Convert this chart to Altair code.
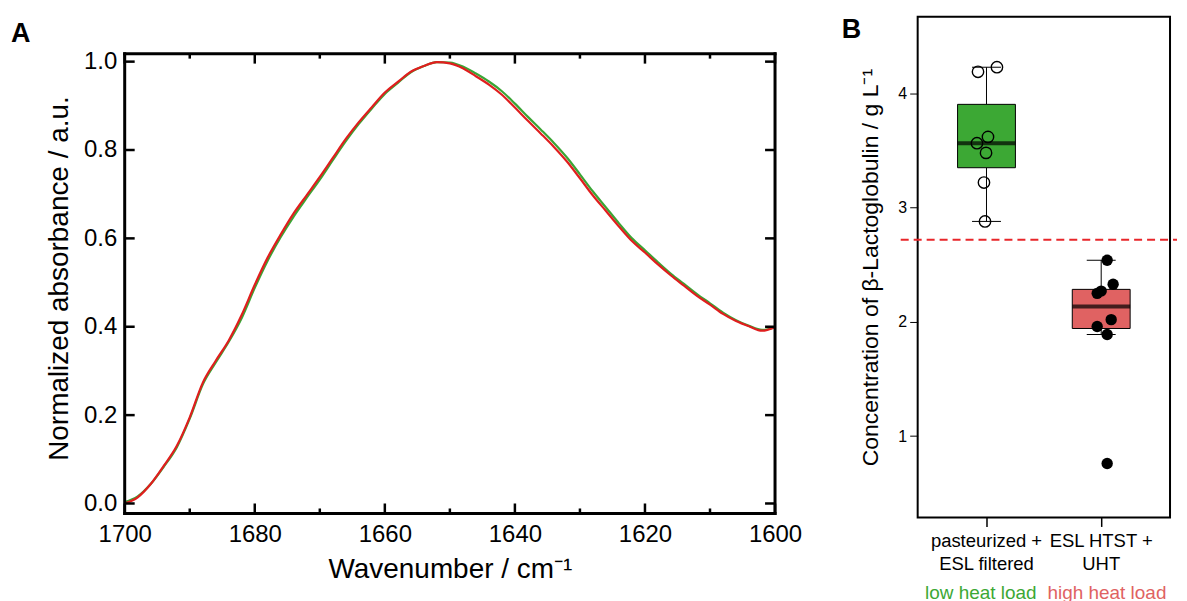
import altair as alt
import pandas as pd

FONT = "Liberation Sans"

# ---------------- Panel A data ----------------
WAVENUMBER = list(range(1700, 1599, -2))
ABS_HIGH = [0.000, 0.014, 0.044, 0.085, 0.130, 0.195, 0.273, 0.323, 0.369, 0.427,
            0.495, 0.557, 0.609, 0.657, 0.698, 0.739, 0.782, 0.825, 0.863, 0.897,
            0.930, 0.954, 0.977, 0.990, 0.999, 0.996, 0.985, 0.967, 0.948, 0.925,
            0.896, 0.866, 0.837, 0.807, 0.774, 0.736, 0.697, 0.662, 0.627, 0.594,
            0.568, 0.541, 0.516, 0.493, 0.470, 0.450, 0.429, 0.413, 0.401, 0.391,
            0.399]
ABS_LOW = [0.003, 0.016, 0.044, 0.083, 0.127, 0.192, 0.269, 0.319, 0.366, 0.420,
           0.488, 0.550, 0.603, 0.650, 0.692, 0.733, 0.777, 0.820, 0.859, 0.894,
           0.927, 0.952, 0.976, 0.990, 0.999, 0.998, 0.989, 0.973, 0.955, 0.933,
           0.905, 0.875, 0.846, 0.816, 0.783, 0.745, 0.706, 0.670, 0.634, 0.600,
           0.573, 0.546, 0.520, 0.497, 0.474, 0.453, 0.432, 0.415, 0.402, 0.393,
           0.399]
X_MAJOR = [1700, 1680, 1660, 1640, 1620, 1600]
X_MINOR = [1690, 1670, 1650, 1630, 1610]
Y_MAJOR = [0.0, 0.2, 0.4, 0.6, 0.8, 1.0]
PANEL_LABELS = ["A", "B"]

# ---------------- Panel B data ----------------
GROUPS = ["pasteurized + ESL filtered", "ESL HTST + UHT"]
GROUP_LINES = [["pasteurized +", "ESL filtered"], ["ESL HTST +", "UHT"]]
HEAT_LOAD = ["low heat load", "high heat load"]
LOW_VALUES = [4.19, 4.23, 3.62, 3.565, 3.48, 3.22, 2.88]
LOW_JITTER = [-0.074, 0.091, 0.013, -0.083, -0.004, -0.022, -0.013]
HIGH_VALUES = [2.54, 2.33, 2.27, 2.25, 2.02, 1.96, 1.89, 0.76]
HIGH_JITTER = [0.052, 0.104, 0.0, -0.035, 0.087, -0.035, 0.052, 0.052]
THRESHOLD = [2.72]
B_TICKS = [1, 2, 3, 4]

GREEN_LINE = "#3aa535"
RED_LINE = "#e01e1e"
GREEN_BOX = "#3ca834"
RED_BOX = "#e06262"

# Panel A view spans the same top as panel B; its frame starts FRAME_TOP lower.
A_W, A_H = 652, 498
FRAME_TOP = 37
B_W, B_H = 253, 502

# ---------------- Panel A ----------------
df_low = pd.DataFrame({"wavenumber": WAVENUMBER, "absorbance": ABS_LOW})
df_high = pd.DataFrame({"wavenumber": WAVENUMBER, "absorbance": ABS_HIGH})

x_a = alt.X("wavenumber:Q",
            scale=alt.Scale(domain=[1600, 1700], reverse=True, nice=False, zero=False),
            axis=alt.Axis(values=X_MAJOR, format="d", ticks=False, tickSize=0, domain=False,
                          grid=False, labelFontSize=24, labelPadding=9, labelFlush=False,
                          labelOverlap=False, title="Wavenumber / cm⁻¹", titleFontSize=28,
                          titlePadding=9))
y_a = alt.Y("absorbance:Q",
            scale=alt.Scale(domain=[-0.0226, 1.1016], nice=False, zero=False),
            axis=alt.Axis(values=Y_MAJOR, format=".1f", ticks=False, tickSize=0, domain=False,
                          grid=False, labelFontSize=24, labelPadding=8, labelFlush=False,
                          title="Normalized absorbance / a.u.", titleFontSize=28,
                          titlePadding=10, titleY=262))

line_low = alt.Chart(df_low).mark_line(color=GREEN_LINE, strokeWidth=2.2,
                                       interpolate="monotone").encode(x=x_a, y=y_a)
line_high = alt.Chart(df_high).mark_line(color=RED_LINE, strokeWidth=2.2,
                                         interpolate="monotone").encode(x=x_a, y=y_a)

xmaj = pd.DataFrame({"wavenumber": X_MAJOR})
xmin = pd.DataFrame({"wavenumber": X_MINOR})
ymaj = pd.DataFrame({"absorbance": Y_MAJOR})


def ticks(df, **enc):
    return alt.Chart(df).mark_rule(color="black", strokeWidth=2.5).encode(**enc)


tick_layers = [
    ticks(xmaj, x=x_a, y=alt.value(A_H), y2=alt.value(A_H - 10)),
    ticks(xmaj, x=x_a, y=alt.value(FRAME_TOP), y2=alt.value(FRAME_TOP + 10)),
    ticks(xmin, x=x_a, y=alt.value(A_H), y2=alt.value(A_H - 5)),
    ticks(xmin, x=x_a, y=alt.value(FRAME_TOP), y2=alt.value(FRAME_TOP + 5)),
    ticks(ymaj, y=y_a, x=alt.value(0), x2=alt.value(10)),
    ticks(ymaj, y=y_a, x=alt.value(A_W), x2=alt.value(A_W - 10)),
]

frame_src = pd.DataFrame({"k": [0]})


def frame(**enc):
    return alt.Chart(frame_src).mark_rule(color="black", strokeWidth=3,
                                          strokeCap="square").encode(**enc)


frame_layers = [
    frame(x=alt.value(0), x2=alt.value(A_W), y=alt.value(FRAME_TOP)),
    frame(x=alt.value(0), x2=alt.value(A_W), y=alt.value(A_H)),
    frame(x=alt.value(0), y=alt.value(FRAME_TOP), y2=alt.value(A_H)),
    frame(x=alt.value(A_W), y=alt.value(FRAME_TOP), y2=alt.value(A_H)),
]

label_a = alt.Chart(pd.DataFrame({"label": [PANEL_LABELS[0]]})).mark_text(
    align="left", baseline="top", fontSize=27, fontWeight="bold", font=FONT, color="black"
).encode(text="label:N", x=alt.value(-114), y=alt.value(4))

panel_a = alt.layer(line_low, line_high, *tick_layers, *frame_layers, label_a).properties(
    width=A_W, height=A_H, view=alt.ViewBackground(stroke=None))

# ---------------- Panel B ----------------
df_b = pd.DataFrame({
    "group": [GROUPS[0]] * len(LOW_VALUES) + [GROUPS[1]] * len(HIGH_VALUES),
    "value": LOW_VALUES + HIGH_VALUES,
    "xpos": [0 + j for j in LOW_JITTER] + [1 + j for j in HIGH_JITTER],
})

label_expr = " : ".join(
    f"datum.value == '{g}' ? ['{l[0]}', '{l[1]}']" for g, l in zip(GROUPS[:-1], GROUP_LINES[:-1])
) + f" : ['{GROUP_LINES[-1][0]}', '{GROUP_LINES[-1][1]}']"

band = alt.Scale(domain=GROUPS, paddingInner=0.5, paddingOuter=0.35)
y_b = alt.Y("value:Q",
            scale=alt.Scale(domain=[0.288, 4.672], nice=False, zero=False),
            axis=alt.Axis(values=B_TICKS, format="d", tickSize=8, tickWidth=1, tickColor="black",
                          labelPadding=3, labelFontSize=16, domain=False, grid=False,
                          title="Concentration of β-Lactoglobulin / g L⁻¹", titleFontSize=23,
                          titlePadding=15))
color_b = alt.Color("group:N", scale=alt.Scale(domain=GROUPS, range=[GREEN_BOX, RED_BOX]),
                    legend=None)

box = alt.Chart(df_b).mark_boxplot(
    size=58, extent=1.5, outliers=False,
    box={"stroke": "black", "strokeWidth": 1},
    median={"color": "black", "thickness": 4},
    rule={"color": "black", "strokeWidth": 1},
    ticks={"color": "black", "size": 29, "thickness": 1},
).encode(
    x=alt.X("group:N", scale=band, sort=GROUPS,
            axis=alt.Axis(labelExpr=label_expr, labelAngle=0, tickSize=9, tickWidth=1.5,
                          tickColor="black", labelPadding=5, labelFontSize=18.5,
                          labelLineHeight=23, domain=False, grid=False, title=None)),
    y=y_b,
    color=color_b,
)

thr = alt.Chart(pd.DataFrame({"value": THRESHOLD})).mark_rule(
    color="#e8262a", strokeWidth=2, strokeDash=[8, 5]
).encode(y="value:Q", x=alt.value(-17), x2=alt.value(260))

x_pts = alt.X("xpos:Q", scale=alt.Scale(domain=[-0.6, 1.6], nice=False, zero=False), axis=None)
pts_low = alt.Chart(df_b).transform_filter(alt.datum.group == GROUPS[0]).mark_point(
    shape="circle", filled=False, color="black", strokeWidth=1.4, size=130, opacity=1
).encode(x=x_pts, y="value:Q")
pts_high = alt.Chart(df_b).transform_filter(alt.datum.group == GROUPS[1]).mark_circle(
    color="black", size=130, opacity=1
).encode(x=x_pts, y="value:Q")

notes = alt.Chart(pd.DataFrame({"group": GROUPS, "note": HEAT_LOAD})).mark_text(
    baseline="top", fontSize=19, font=FONT
).encode(x=alt.X("group:N", scale=band, sort=GROUPS, axis=None),
         y=alt.value(569), text="note:N", color=color_b)

label_b = alt.Chart(pd.DataFrame({"label": [PANEL_LABELS[1]]})).mark_text(
    align="left", baseline="top", fontSize=27, fontWeight="bold", font=FONT, color="black"
).encode(text="label:N", x=alt.value(-76), y=alt.value(0))

panel_b = alt.layer(box, thr, pts_low, pts_high, notes, label_b).resolve_scale(
    x="independent"
).properties(width=B_W, height=B_H, view=alt.ViewBackground(stroke="black", strokeWidth=2))

chart = alt.hconcat(panel_a, panel_b, spacing=39).properties(
    padding={"left": 3, "top": 6, "right": 0, "bottom": 0}
).configure(font=FONT).configure_axis(
    labelFont=FONT, titleFont=FONT, labelColor="black", titleColor="black",
    titleFontWeight="normal"
)

chart.save("out.html", embed_options={"renderer": "svg", "actions": False})
